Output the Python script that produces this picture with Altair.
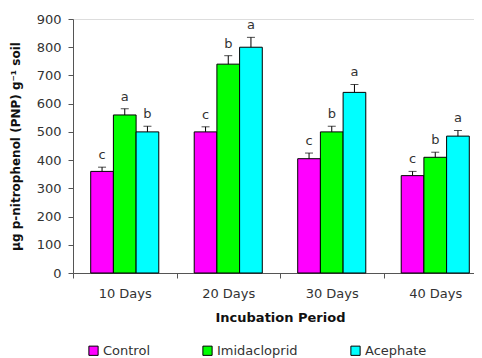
import altair as alt
import pandas as pd

periods = ["10 Days", "20 Days", "30 Days", "40 Days"]
treatments = ["Control", "Imidacloprid", "Acephate"]
colors = ["#ff00ff", "#00ff00", "#00ffff"]
y_ticks = [0, 100, 200, 300, 400, 500, 600, 700, 800, 900]

control = [360, 500, 405, 345]
control_err = [15, 18, 20, 15]
control_letters = ["c", "c", "c", "c"]

imidacloprid = [560, 740, 500, 410]
imidacloprid_err = [22, 30, 20, 18]
imidacloprid_letters = ["a", "b", "b", "b"]

acephate = [500, 800, 640, 485]
acephate_err = [20, 35, 28, 20]
acephate_letters = ["b", "a", "a", "a"]

series = {
    "Control": (control, control_err, control_letters),
    "Imidacloprid": (imidacloprid, imidacloprid_err, imidacloprid_letters),
    "Acephate": (acephate, acephate_err, acephate_letters),
}

rows = []
for t in treatments:
    vals, errs, lets = series[t]
    for p, v, e, l in zip(periods, vals, errs, lets):
        rows.append({"period": p, "treatment": t, "value": v, "top": v + e, "letter": l})
df = pd.DataFrame(rows)

FONT = "DejaVu Sans"
AXIS_COL = "#555555"

x_enc = alt.X(
    "period:N",
    sort=periods,
    scale=alt.Scale(range=[0, 414], paddingInner=0, paddingOuter=0),
    axis=alt.Axis(
        title="Incubation Period",
        titleFont=FONT, titleFontSize=13, titleFontWeight="bold", titleColor="#111111",
        titlePadding=11,
        labelFont=FONT, labelFontSize=13, labelColor="#333333", labelPadding=9,
        labelAngle=0,
        tickBand="extent", tickSize=5, tickColor=AXIS_COL,
        domainColor=AXIS_COL, grid=False,
    ),
)
xoff = alt.XOffset("treatment:N", sort=treatments,
                   scale=alt.Scale(paddingOuter=0.78, paddingInner=0))

base = alt.Chart(df).encode(x=x_enc, xOffset=xoff)

y_scale = alt.Scale(domain=[0, 900], nice=False)
y_axis = alt.Axis(
    title="µg p-nitrophenol (PNP) g⁻¹ soil",
    titleFont=FONT, titleFontSize=12, titleFontWeight="bold", titleColor="#111111",
    titlePadding=14,
    values=y_ticks,
    labelOverlap=False,
    labelFont=FONT, labelFontSize=13, labelColor="#333333", labelPadding=7,
    tickSize=5, tickColor=AXIS_COL, domainColor=AXIS_COL, grid=False,
)

bars = base.mark_bar(stroke="black", strokeWidth=1).encode(
    y=alt.Y("value:Q", scale=y_scale, axis=y_axis),
    color=alt.Color(
        "treatment:N",
        sort=treatments,
        scale=alt.Scale(domain=treatments, range=colors),
        legend=alt.Legend(
            title=None,
            orient="none",
            direction="horizontal",
            legendX=14,
            legendY=325,
            symbolType="square",
            symbolSize=85,
            symbolStrokeColor="black",
            symbolStrokeWidth=1,
            labelFont=FONT, labelFontSize=13, labelColor="#333333",
            labelOffset=3,
            columnPadding=50,
        ),
    ),
)

errs = base.mark_rule(color="black", strokeWidth=1).encode(
    y=alt.Y("value:Q", scale=y_scale, axis=y_axis), y2="top:Q"
)
caps = base.mark_tick(color="black", thickness=1, size=8).encode(
    y=alt.Y("top:Q", scale=y_scale, axis=y_axis)
)
letters = base.mark_text(dy=-12, font=FONT, fontSize=13, color="#333333").encode(
    y=alt.Y("top:Q", scale=y_scale, axis=y_axis), text="letter:N"
)

chart = (
    alt.layer(bars, errs, caps, letters)
    .properties(
        width=401,
        height=254,
        autosize=alt.AutoSizeParams(type="none"),
        padding={"left": 65, "top": 11, "right": 0, "bottom": 85},
    )
    .configure_view(stroke=None)
    .configure(background="white")
)

chart.save("out.html", embed_options={"renderer": "svg", "actions": False})
